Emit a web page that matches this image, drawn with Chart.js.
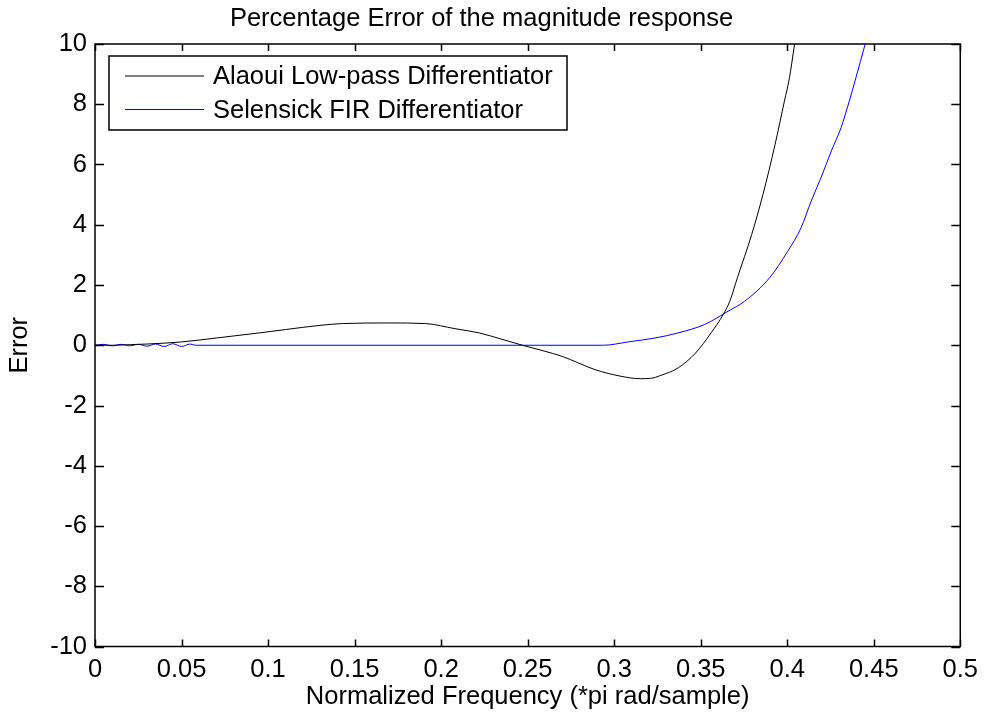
<!DOCTYPE html>
<html>
<head>
<meta charset="utf-8">
<title>Percentage Error of the magnitude response</title>
<script src="https://cdn.jsdelivr.net/npm/chart.js@4.4.1/dist/chart.umd.min.js"></script>
<style>
  html, body { margin: 0; padding: 0; background: #fff; }
  canvas { display: block; }
</style>
</head>
<body>
<canvas id="errorChart" width="986" height="713"></canvas>
<script>
//---------------------------------------------------------
// Data
// Alaoui Low-pass Differentiator (black)
const alaouiFreq = [0, 0.01, 0.02, 0.03, 0.05, 0.07, 0.095, 0.11, 0.13, 0.143, 0.17, 0.191, 0.208, 0.222,
  0.235, 0.247, 0.26, 0.27, 0.289, 0.304, 0.315, 0.321, 0.327, 0.337, 0.347, 0.356, 0.363, 0.3668,
  0.3712, 0.3795, 0.386, 0.393, 0.3984, 0.4013, 0.4042, 0.41];
const alaouiErr = [0, 0.0, 0.02, 0.04, 0.11, 0.24, 0.41, 0.52, 0.66, 0.72, 0.74, 0.72, 0.55, 0.41,
  0.2, 0.0, -0.2, -0.37, -0.81, -1.03, -1.11, -1.1, -1.0, -0.75, -0.26, 0.41, 1.02, 1.46,
  2.24, 3.68, 5.01, 6.67, 8.11, 8.88, 9.97, 12];

// Selensick FIR Differentiator (blue)
const selensickFreq = [0, 0.005, 0.01, 0.015, 0.02, 0.025, 0.03, 0.035, 0.04, 0.045, 0.05, 0.055, 0.058,
  0.2938, 0.308, 0.3236, 0.337, 0.3523, 0.3658, 0.3754, 0.3898, 0.4003, 0.408, 0.4138, 0.4195,
  0.4255, 0.4311, 0.4359, 0.4397, 0.4449, 0.452];
const selensickErr = [0, 0.03, -0.02, 0.03, -0.02, 0.03, -0.03, 0.04, -0.04, 0.05, -0.04, 0.04, 0,
  0, 0.11, 0.24, 0.41, 0.69, 1.13, 1.46, 2.24, 3.12, 3.9, 4.78, 5.56,
  6.45, 7.22, 8.11, 8.88, 9.97, 11.5];

// Axis ticks
const xTickValues = [0, 0.05, 0.1, 0.15, 0.2, 0.25, 0.3, 0.35, 0.4, 0.45, 0.5];
const yTickValues = [-10, -8, -6, -4, -2, 0, 2, 4, 6, 8, 10];

const FONT = "'Liberation Sans', Arial, sans-serif";
const FONT_SIZE = 25.5;

//---------------------------------------------------------
// Box, inward ticks and legend drawn MATLAB-style
const matlabFrame = {
  id: "matlabFrame",
  afterDatasetsDraw(chart) {
    const { ctx, chartArea: a, scales: { x, y } } = chart;
    ctx.save();
    ctx.strokeStyle = "#000";
    ctx.lineWidth = 1.5;
    ctx.strokeRect(a.left, a.top, a.right - a.left, a.bottom - a.top);

    ctx.beginPath();
    xTickValues.forEach((v) => { // ticks on bottom and top
      const px = Math.round(x.getPixelForValue(v)) + 0.5;
      ctx.moveTo(px, a.bottom); ctx.lineTo(px, a.bottom - 7);
      ctx.moveTo(px, a.top); ctx.lineTo(px, a.top + 7);
    });
    yTickValues.forEach((v) => { // ticks on left and right
      const py = Math.round(y.getPixelForValue(v)) + 0.5;
      ctx.moveTo(a.left, py); ctx.lineTo(a.left + 9, py);
      ctx.moveTo(a.right, py); ctx.lineTo(a.right - 9, py);
    });
    ctx.stroke();

    // legend box inside the axes (upper left)
    const lx = a.left + 14, ly = a.top + 12, lw = 458, lh = 74;
    ctx.fillStyle = "#fff";
    ctx.fillRect(lx, ly, lw, lh);
    ctx.lineWidth = 1.5;
    ctx.strokeRect(lx, ly, lw, lh);
    ctx.font = FONT_SIZE + "px " + FONT;
    ctx.textBaseline = "middle";
    ctx.textAlign = "left";
    chart.data.datasets.forEach((ds, i) => {
      const rowY = ly + 20 + i * 33.5;
      ctx.strokeStyle = ds.borderColor;
      ctx.lineWidth = 1;
      ctx.beginPath();
      ctx.moveTo(lx + 16, rowY); ctx.lineTo(lx + 95, rowY);
      ctx.stroke();
      ctx.fillStyle = "#000";
      ctx.fillText(ds.label, lx + 104, rowY + 1);
    });
    ctx.restore();
  },
};

//---------------------------------------------------------
// Chart
const ctx = document.getElementById("errorChart").getContext("2d");
new Chart(ctx, {
  type: "line",
  data: {
    datasets: [
      {
        label: "Alaoui Low-pass Differentiator",
        data: alaouiFreq.map((f, i) => ({ x: f, y: alaouiErr[i] })),
        borderColor: "#000000",
        borderWidth: 1,
        pointRadius: 0,
        cubicInterpolationMode: "monotone",
      },
      {
        label: "Selensick FIR Differentiator",
        data: selensickFreq.map((f, i) => ({ x: f, y: selensickErr[i] })),
        borderColor: "#0000ff",
        borderWidth: 1,
        pointRadius: 0,
        cubicInterpolationMode: "monotone",
      },
    ],
  },
  options: {
    responsive: false,
    animation: false,
    layout: { padding: { left: 0, right: 23, top: 0, bottom: 0 } },
    scales: {
      x: {
        type: "linear",
        min: 0,
        max: 0.5,
        afterBuildTicks: (scale) => { scale.ticks = xTickValues.map((v) => ({ value: v })); },
        afterFit: (scale) => { scale.height = 66.5; },
        grid: { display: false, drawTicks: false },
        border: { display: false },
        ticks: {
          color: "#000",
          padding: 8,
          maxRotation: 0,
          font: { family: FONT, size: FONT_SIZE },
          callback: (v) => String(+Number(v).toFixed(2)),
        },
        title: {
          display: true,
          text: "Normalized Frequency (*pi rad/sample)",
          color: "#000",
          font: { family: FONT, size: FONT_SIZE },
          padding: { top: 0, bottom: 0.7 },
        },
      },
      y: {
        type: "linear",
        min: -10,
        max: 10,
        afterBuildTicks: (scale) => { scale.ticks = yTickValues.map((v) => ({ value: v })); },
        afterFit: (scale) => { scale.width = 95; },
        grid: { display: false, drawTicks: false },
        border: { display: false },
        ticks: {
          color: "#000",
          padding: 8,
          font: { family: FONT, size: FONT_SIZE },
          callback: (v) => String(v),
        },
        title: {
          display: true,
          text: "Error",
          color: "#000",
          font: { family: FONT, size: FONT_SIZE },
          padding: { top: 4.7, bottom: 0 },
        },
      },
    },
    plugins: {
      legend: { display: false }, // drawn inside the axes by matlabFrame
      tooltip: { enabled: false },
      title: {
        display: true,
        text: "Percentage Error of the magnitude response",
        color: "#000",
        font: { family: FONT, size: FONT_SIZE, weight: "normal" },
        padding: { top: 3.7, bottom: 9.7 },
      },
    },
  },
  plugins: [matlabFrame],
});
</script>
</body>
</html>
